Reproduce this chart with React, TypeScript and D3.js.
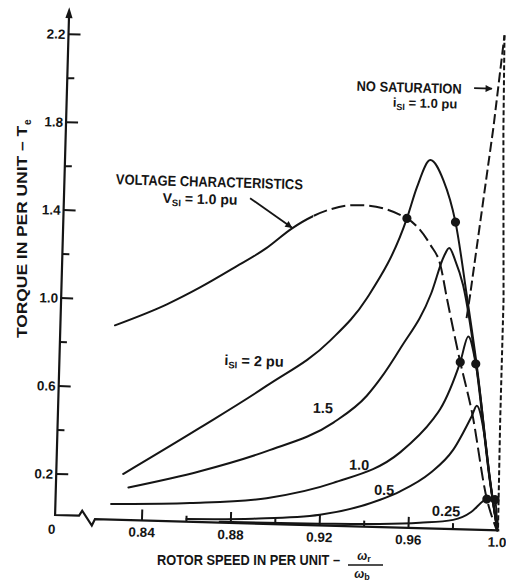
import React from 'react';
import * as d3 from 'd3';

type Pt = [number, number];

// ---- data: [rotor speed (pu), torque (pu)] ----
const CURRENT_2_0: Pt[] = [
  [0.831, 0.209], [0.865, 0.429], [0.8945, 0.628], [0.9224, 0.841], [0.9384, 1.038],
  [0.9554, 1.406], [0.9595, 1.548], [0.9652, 1.674], [0.9714, 1.582], [0.9773, 1.395],
  [0.9833, 1.064], [0.9887, 0.746], [0.9961, 0.23], [1.0, 0],
];
const CURRENT_1_5: Pt[] = [
  [0.8335, 0.148], [0.8655, 0.231], [0.8953, 0.331], [0.9249, 0.469], [0.9396, 0.595],
  [0.9454, 0.673], [0.954, 0.813], [0.9673, 1.069], [0.9726, 1.24], [0.9748, 1.277],
  [0.9776, 1.223], [0.9815, 1.11], [0.9885, 0.74], [0.996, 0.225], [1.0, 0],
];
const CURRENT_1_0: Pt[] = [
  [0.8259, 0.071], [0.8614, 0.085], [0.8958, 0.117], [0.9256, 0.195], [0.9553, 0.342],
  [0.9697, 0.497], [0.9728, 0.544], [0.9812, 0.76], [0.9845, 0.877], [0.9882, 0.754],
  [0.996, 0.228], [1.0, 0],
];
const CURRENT_0_5: Pt[] = [
  [0.86, 0.012], [0.89, 0.022], [0.92, 0.048], [0.9469, 0.124], [0.9558, 0.165],
  [0.9691, 0.252], [0.9791, 0.36], [0.9871, 0.517], [0.9892, 0.563], [0.9932, 0.42],
  [0.9962, 0.22], [1.0, 0],
];
const CURRENT_0_25: Pt[] = [
  [0.875, 0.004], [0.92, 0.008], [0.947, 0.014], [0.965, 0.025], [0.98, 0.042],
  [0.988, 0.08], [0.9934, 0.132], [0.9949, 0.141], [0.997, 0.146], [0.9986, 0.139], [1.0, 0],
];
// voltage characteristic, V = 1.0 pu (solid up to VOLTAGE_DASH_FROM, dashed beyond)
const VOLTAGE: Pt[] = [
  [0.8254, 0.883], [0.8485, 0.985], [0.8632, 1.066], [0.878, 1.158], [0.8927, 1.254],
  [0.9037, 1.345], [0.9133, 1.405], [0.9207, 1.437], [0.9297, 1.458], [0.9355, 1.46],
  [0.9554, 1.406], [0.9662, 1.29], [0.971, 1.2], [0.9744, 1.048], [0.9812, 0.76],
  [0.9871, 0.534], [0.9949, 0.141], [0.9998, 0],
];
const VOLTAGE_DASH_FROM = 0.9133;
const NOSAT_LEFT: Pt[] = [[0.9835, 0.96], [0.9848, 1.066], [0.9932, 1.832], [0.997, 2.25]];
const NOSAT_RIGHT: Pt[] = [[0.997, 2.25], [0.9977, 1.821], [0.9999, 1.048], [0.9999, 0.502], [1.0003, 0]];
const OPERATING_POINTS: Pt[] = [
  [0.9554, 1.406], [0.9773, 1.395], [0.9812, 0.76], [0.9882, 0.754], [0.9949, 0.141], [0.9986, 0.139],
];

// ---- ticks ----
const X_MAJOR = [0.84, 0.88, 0.92, 0.96, 1.0];
const X_MAJOR_LABELS = ['0.84', '0.88', '0.92', '0.96', '1.0'];
const X_MINOR = [0.86, 0.9, 0.94, 0.98];
const Y_MAJOR = [0.2, 0.6, 1.0, 1.4, 1.8, 2.2];
const Y_MAJOR_LABELS = ['0.2', '0.6', '1.0', '1.4', '1.8', '2.2'];
const Y_MINOR = [0.4, 0.8, 1.2, 1.6, 2.0];

// ---- annotations (anchored in data units) ----
const CURVE_LABELS: { text: string; at: Pt }[] = [
  { text: '1.5', at: [0.92, 0.534] },
  { text: '1.0', at: [0.937, 0.28] },
  { text: '0.5', at: [0.9486, 0.169] },
  { text: '0.25', at: [0.9767, 0.081] },
];
const LABEL_I2: Pt = [0.8884, 0.739];
const LABEL_VOLT_TITLE: Pt = [0.8661, 1.547];
const LABEL_VOLT_SUB: Pt = [0.8621, 1.469];
const ARROW_VOLT: Pt[] = [[0.8846, 1.478], [0.9037, 1.35]];
const LABEL_NOSAT: Pt = [0.9548, 2.002];
const LABEL_NOSAT_SUB: Pt = [0.9621, 1.934];
const ARROW_NOSAT: Pt[] = [[0.984, 2.006], [0.992, 2.006]];

const INK = '#151515';
const FONT = "'Liberation Sans', Arial, Helvetica, sans-serif";

export default function App() {
  const x = d3.scaleLinear().domain([0.84, 1.0]).range([142, 497.5]);
  const y = d3.scaleLinear().domain([0, 2.2]).range([518, 34]);
  const smooth = d3.line<Pt>().x(d => x(d[0])).y(d => y(d[1])).curve(d3.curveMonotoneX);
  const straight = d3.line<Pt>().x(d => x(d[0])).y(d => y(d[1]));

  const AX = 55;
  const AY = y(0);
  const yTop = 7;
  const splitX = x(VOLTAGE_DASH_FROM);

  const axisPath = `M${AX},${yTop + 9} L${AX},${AY - 3} L${AX + 24},${AY - 3} L${AX + 27},${AY - 8} L${AX + 37},${AY + 6.5} L${AX + 40},${AY} L${x(1.0) + 2},${AY}`;

  const curveStyle = { fill: 'none', stroke: INK, strokeWidth: 2, strokeLinejoin: 'round' as const, strokeLinecap: 'round' as const };
  const voltagePath = smooth(VOLTAGE) || '';

  return (
    <svg width={506} height={582} viewBox="0 0 506 582"
      style={{ position: 'absolute', left: 0, top: 0, background: '#fff' }}
      fontFamily={FONT}>
      <defs>
        <marker id="arr" viewBox="0 0 10 10" refX="9" refY="5" markerWidth="9" markerHeight="7"
          markerUnits="userSpaceOnUse" orient="auto">
          <path d="M0,0 L10,5 L0,10 z" fill={INK} />
        </marker>
        <clipPath id="vSolid" clipPathUnits="userSpaceOnUse">
          <rect x={0} y={-50} width={splitX} height={700} />
        </clipPath>
        <clipPath id="vDashed" clipPathUnits="userSpaceOnUse">
          <rect x={splitX} y={-50} width={600} height={700} />
        </clipPath>
      </defs>
      <rect x={0} y={0} width={506} height={582} fill="#fff" />

      <g transform={`rotate(1.6 ${AX} ${AY})`}>
        {/* axes */}
        <path d={axisPath} fill="none" stroke={INK} strokeWidth={2.2} strokeLinejoin="miter" />
        <path d={`M${AX},${yTop} L${AX - 3.6},${yTop + 11} L${AX + 3.6},${yTop + 11} z`} fill={INK} />
        {Y_MAJOR.map(v => (
          <line key={'ym' + v} x1={AX} x2={AX + 12} y1={y(v)} y2={y(v)} stroke={INK} strokeWidth={2} />
        ))}
        {Y_MINOR.map(v => (
          <line key={'yn' + v} x1={AX} x2={AX + 7} y1={y(v)} y2={y(v)} stroke={INK} strokeWidth={2} />
        ))}
        {X_MAJOR.map(v => (
          <line key={'xm' + v} x1={x(v)} x2={x(v)} y1={AY} y2={AY - 11} stroke={INK} strokeWidth={2} />
        ))}
        {X_MINOR.map(v => (
          <line key={'xn' + v} x1={x(v)} x2={x(v)} y1={AY} y2={AY - 6} stroke={INK} strokeWidth={2} />
        ))}
        {Y_MAJOR.map((v, i) => (
          <text key={'yl' + v} x={AX - 3} y={y(v) + 4.8} textAnchor="end" fontSize={13.5} fontWeight="bold" fill={INK}>
            {Y_MAJOR_LABELS[i]}
          </text>
        ))}
        <text x={AX - 3} y={AY + 16} textAnchor="middle" fontSize={13.5} fontWeight="bold" fill={INK}>0</text>
        {X_MAJOR.map((v, i) => (
          <text key={'xl' + v} x={x(v)} y={AY + 16.5} textAnchor="middle" fontSize={13.5} fontWeight="bold" fill={INK}>
            {X_MAJOR_LABELS[i]}
          </text>
        ))}

        {/* constant-current curves */}
        {[CURRENT_2_0, CURRENT_1_5, CURRENT_1_0, CURRENT_0_5, CURRENT_0_25].map((s, i) => (
          <path key={'c' + i} d={smooth(s) || ''} {...curveStyle} />
        ))}
        {/* voltage characteristic */}
        <path d={voltagePath} {...curveStyle} clipPath="url(#vSolid)" />
        <path d={voltagePath} {...curveStyle} strokeLinecap="butt" strokeDasharray="14 5" clipPath="url(#vDashed)" />
        {/* no saturation */}
        <path d={straight(NOSAT_LEFT) || ''} {...curveStyle} strokeLinecap="butt" strokeDasharray="10 4" />
        <path d={straight(NOSAT_RIGHT) || ''} {...curveStyle} strokeLinecap="butt" strokeDasharray="5 2.5" />

        {OPERATING_POINTS.map((p, i) => (
          <circle key={'d' + i} cx={x(p[0])} cy={y(p[1])} r={4.6} fill={INK} />
        ))}

        {/* annotations */}
        {CURVE_LABELS.map(l => (
          <text key={l.text} x={x(l.at[0])} y={y(l.at[1]) + 5} textAnchor="middle" fontSize={14.5} fontWeight="bold" fill={INK}>
            {l.text}
          </text>
        ))}
        <text x={x(LABEL_I2[0])} y={y(LABEL_I2[1]) + 5} textAnchor="middle" fontSize={14.5} fontWeight="bold" fill={INK}>
          <tspan>i</tspan><tspan dy={3} fontSize={9.5}>SI</tspan>
          <tspan dy={-3}> = 2 pu</tspan>
        </text>
        <text x={x(LABEL_VOLT_TITLE[0])} y={y(LABEL_VOLT_TITLE[1]) + 5} textAnchor="middle" fontSize={14.5}
          fontWeight="bold" fill={INK} textLength={187} lengthAdjust="spacingAndGlyphs">
          VOLTAGE CHARACTERISTICS
        </text>
        <text x={x(LABEL_VOLT_SUB[0])} y={y(LABEL_VOLT_SUB[1]) + 5} textAnchor="middle" fontSize={14} fontWeight="bold" fill={INK}>
          <tspan>V</tspan><tspan dy={3} fontSize={9.5}>SI</tspan>
          <tspan dy={-3}> = 1.0 pu</tspan>
        </text>
        <path d={straight(ARROW_VOLT) || ''} fill="none" stroke={INK} strokeWidth={1.8} markerEnd="url(#arr)" />
        <text x={x(LABEL_NOSAT[0])} y={y(LABEL_NOSAT[1]) + 5} textAnchor="middle" fontSize={14}
          fontWeight="bold" fill={INK} textLength={105} lengthAdjust="spacingAndGlyphs">
          NO SATURATION
        </text>
        <path d={straight(ARROW_NOSAT) || ''} fill="none" stroke={INK} strokeWidth={1.8} markerEnd="url(#arr)" />
        <text x={x(LABEL_NOSAT_SUB[0])} y={y(LABEL_NOSAT_SUB[1]) + 5} textAnchor="middle" fontSize={13} fontWeight="bold" fill={INK}>
          <tspan>i</tspan><tspan dy={3} fontSize={9}>SI</tspan>
          <tspan dy={-3}> = 1.0 pu</tspan>
        </text>
      </g>

      {/* axis titles */}
      <g transform="translate(27 338) rotate(-90)">
        <text x={0} y={0} fontSize={14} fontWeight="bold" fill={INK} textLength={212} lengthAdjust="spacingAndGlyphs">
          TORQUE IN PER UNIT – T
        </text>
        <text x={213} y={4} fontSize={10} fontWeight="bold" fill={INK}>e</text>
      </g>
      <text x={157} y={565} fontSize={14} fontWeight="bold" fill={INK} textLength={183} lengthAdjust="spacingAndGlyphs">
        ROTOR SPEED IN PER UNIT –
      </text>
      <text x={364} y={560} textAnchor="middle" fontSize={12} fontWeight="bold" fill={INK}>
        <tspan fontStyle="italic">ω</tspan><tspan dy={2} fontSize={9}>r</tspan>
      </text>
      <line x1={348} x2={383} y1={565} y2={565} stroke={INK} strokeWidth={1.3} />
      <text x={362} y={578} textAnchor="middle" fontSize={12} fontWeight="bold" fill={INK}>
        <tspan fontStyle="italic">ω</tspan><tspan dy={2} fontSize={9}>b</tspan>
      </text>
    </svg>
  );
}
